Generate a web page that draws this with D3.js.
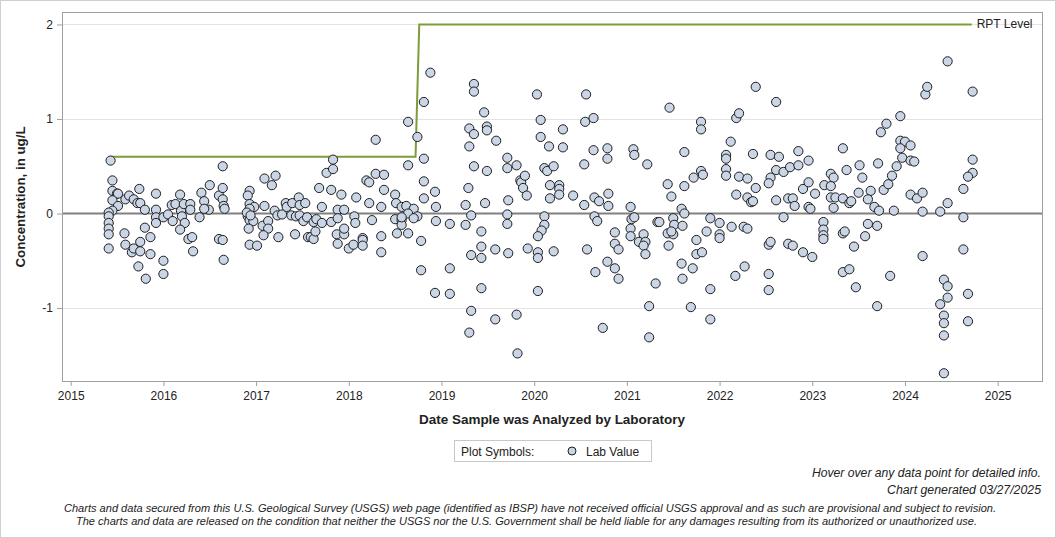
<!DOCTYPE html>
<html>
<head>
<meta charset="utf-8">
<script src="https://cdn.jsdelivr.net/npm/d3@7"></script>
<style>
  body { margin: 0; background: #fff; }
  svg text { font-family: "Liberation Sans", Arial, sans-serif; fill: #222; }
</style>
</head>
<body>
<svg id="chart" width="1056" height="538"></svg>
<script>
// sample dates (decimal years) and lab values
const sampleDates = [
  2015.43, 2015.45, 2015.45, 2015.50, 2015.51, 2015.45, 2015.51, 2015.45, 2015.41, 2015.41, 2015.41, 2015.41, 2015.41, 2015.41,
  2015.59, 2015.63, 2015.68, 2015.74, 2015.72, 2015.75, 2015.80, 2015.58, 2015.59, 2015.66, 2015.68, 2015.75, 2015.75, 2015.80,
  2015.86, 2015.86, 2015.73, 2015.81, 2015.92, 2015.92, 2015.92, 2015.92, 2016.00, 2016.05, 2016.10, 2016.00, 2016.00,
  2016.09, 2016.13, 2016.18, 2016.19, 2016.20, 2016.22, 2016.23, 2016.18, 2016.29, 2016.29, 2016.39, 2016.41, 2016.44,
  2016.50, 2016.49, 2016.44, 2016.27, 2016.31, 2016.32, 2016.64, 2016.60, 2016.64, 2016.64, 2016.65, 2016.66, 2016.60, 2016.64, 2016.65,
  2016.93, 2016.91, 2016.93, 2016.98, 2016.93, 2016.91, 2016.93, 2016.97, 2016.92, 2016.93, 2017.01, 2016.90, 2016.94,
  2017.09, 2017.09, 2017.17, 2017.21, 2017.07, 2017.13, 2017.13, 2017.08, 2017.24, 2017.20, 2017.23, 2017.28, 2017.32, 2017.33,
  2017.39, 2017.38, 2017.46, 2017.47, 2017.53, 2017.43, 2017.47, 2017.51, 2017.55, 2017.62, 2017.65, 2017.71, 2017.71, 2017.81,
  2017.88, 2017.88, 2017.95, 2017.42, 2017.56, 2017.59, 2017.62, 2017.64, 2017.68, 2017.81, 2017.92, 2017.76, 2017.83, 2017.83,
  2017.87, 2017.95, 2017.95, 2017.88, 2018.00, 2018.05, 2018.06, 2018.07, 2018.08, 2018.15, 2018.15, 2018.15, 2018.19, 2018.22,
  2018.29, 2018.38, 2018.29, 2018.22, 2018.25, 2018.35, 2018.35, 2018.35, 2018.38,
  2018.50, 2018.51, 2018.57, 2018.62, 2018.70, 2018.64, 2018.74, 2018.70, 2018.50, 2018.57, 2018.57, 2018.52, 2018.64, 2018.78,
  2018.78, 2018.64, 2018.81, 2018.81, 2018.81, 2018.93, 2018.94, 2018.94, 2018.88, 2018.81, 2018.64, 2018.74, 2018.57,
  2019.09, 2019.26, 2019.29, 2019.26, 2019.32, 2019.30, 2019.30, 2019.35, 2019.35, 2019.35, 2019.46, 2019.49, 2019.49, 2019.59,
  2019.35, 2019.49, 2019.47, 2019.43, 2019.09, 2018.93, 2019.09, 2019.32, 2019.43, 2019.43, 2019.58, 2019.43, 2019.32, 2019.58, 2019.30,
  2019.71, 2019.71, 2019.81, 2019.85, 2019.86, 2019.88, 2019.90, 2019.92, 2019.72, 2019.71, 2019.71, 2019.72, 2019.93, 2019.81, 2019.82,
  2020.03, 2020.07, 2020.07, 2020.16, 2020.31, 2020.31, 2020.11, 2020.14, 2020.21, 2020.17, 2020.27, 2020.27, 2020.27, 2020.17,
  2020.42, 2020.11, 2020.11, 2020.08, 2020.04, 2020.04, 2020.04, 2020.21, 2020.04,
  2020.56, 2020.55, 2020.64, 2020.64, 2020.79, 2020.79, 2020.54, 2020.65, 2020.70, 2020.80, 2020.80, 2020.54, 2020.65, 2020.68,
  2020.87, 2020.57, 2020.87, 2020.91, 2020.79, 2020.66, 2020.87, 2020.91, 2020.74,
  2021.07, 2021.08, 2021.22, 2021.04, 2021.05, 2021.08, 2021.04, 2021.04, 2021.18, 2021.13, 2021.20, 2021.18, 2021.20, 2021.31,
  2021.24, 2021.24, 2021.33, 2021.35,
  2021.46, 2021.44, 2021.48, 2021.62, 2021.62, 2021.59, 2021.62, 2021.50, 2021.51, 2021.60, 2021.44, 2021.50, 2021.48, 2021.45,
  2021.59, 2021.60, 2021.71, 2021.69, 2021.80, 2021.80, 2021.72, 2021.80, 2021.82, 2021.90, 2022.00, 2022.00, 2021.86, 2021.75,
  2021.75, 2021.81, 2021.90, 2021.90, 2022.00,
  2022.12, 2022.18, 2022.21, 2022.07, 2022.07, 2022.07, 2022.07, 2022.21, 2022.30, 2022.39, 2022.18, 2022.30, 2022.34, 2022.36,
  2022.36, 2022.39, 2022.13, 2022.26, 2022.30, 2022.27, 2022.17, 2022.53, 2022.55, 2022.53, 2022.53,
  2022.61, 2022.55, 2022.64, 2022.61, 2022.69, 2022.55, 2022.53, 2022.61, 2022.76, 2022.85, 2022.85, 2022.96, 2022.74, 2022.79,
  2022.81, 2022.69, 2022.90, 2022.96, 2023.03, 2022.96, 2022.98, 2022.74, 2022.79, 2022.90, 2023.00,
  2023.13, 2023.20, 2023.23, 2023.20, 2023.20, 2023.25, 2023.33, 2023.37, 2023.33, 2023.40, 2023.42, 2023.23, 2023.12, 2023.12,
  2023.12, 2023.12, 2023.33, 2023.35, 2023.45, 2023.33, 2023.40, 2023.47, 2023.51, 2023.54, 2023.50, 2023.63, 2023.60, 2023.67,
  2023.72, 2023.70, 2023.60, 2023.57, 2023.70, 2023.71, 2023.77, 2023.82, 2023.86, 2023.91, 2023.74, 2023.80, 2023.95, 2023.84,
  2023.95, 2024.00, 2024.06, 2023.95, 2023.97, 2024.06, 2024.10, 2023.88, 2024.06, 2024.13, 2024.19, 2024.19, 2024.19, 2024.22,
  2024.24, 2024.46, 2024.38, 2024.46, 2024.42, 2024.46, 2024.46, 2024.38, 2024.42, 2024.42, 2024.42, 2024.42,
  2024.73, 2024.73, 2024.73, 2024.68, 2024.63, 2024.63, 2024.63, 2024.68, 2024.68
];
const labValues = [
  0.56, 0.35, 0.24, 0.21, 0.21, 0.14, 0.08, 0.03, 0.01, -0.03, -0.10, -0.16, -0.22, -0.37,
  0.15, 0.19, 0.15, 0.26, 0.11, 0.11, 0.04, -0.21, -0.33, -0.41, -0.37, -0.30, -0.40, -0.15,
  -0.25, -0.43, -0.56, -0.69, 0.21, 0.04, -0.04, -0.10, -0.04, -0.01, -0.08, -0.50, -0.64,
  0.09, 0.10, 0.20, 0.03, -0.03, 0.10, -0.10, -0.17, 0.10, 0.04, -0.04, 0.22, 0.13,
  0.30, 0.04, 0.05, -0.27, -0.25, -0.40, 0.50, 0.19, 0.27, 0.15, 0.08, 0.05, -0.27, -0.28, -0.49,
  0.24, 0.19, 0.10, 0.07, 0.05, -0.03, -0.07, -0.08, -0.16, -0.33, -0.34, 0.01, -0.02,
  0.08, 0.37, 0.30, 0.40, -0.13, -0.08, -0.16, -0.23, -0.25, 0.03, -0.02, -0.01, 0.11, 0.07,
  0.11, -0.02, 0.17, 0.09, 0.11, -0.03, -0.02, -0.08, -0.04, -0.09, -0.06, 0.07, -0.10, -0.09,
  0.04, -0.05, 0.04, -0.22, -0.25, -0.25, -0.27, -0.19, 0.27, 0.25, 0.20, 0.43, 0.47, 0.57,
  -0.22, -0.22, -0.16, -0.32, -0.37, -0.33, -0.03, -0.10, 0.17, -0.26, -0.28, -0.34, 0.35, 0.33,
  0.42, 0.41, 0.78, 0.11, -0.07, 0.07, -0.24, -0.41, 0.25,
  0.20, 0.11, 0.07, 0.08, 0.05, 0.00, -0.03, -0.05, -0.06, -0.07, -0.12, -0.21, -0.21, -0.29,
  -0.60, 0.51, 0.58, 0.34, 0.16, 0.23, 0.07, -0.08, 1.49, 1.18, 0.97, 0.81, -0.04,
  -0.11, -0.12, 0.27, 0.09, -0.02, 0.71, 0.90, 0.84, 1.37, 1.29, 1.07, 0.92, 0.88, 0.77,
  0.50, 0.45, 0.11, -0.19, -0.58, -0.84, -0.85, -0.44, -0.35, -0.47, -0.38, -0.79, -1.03, -1.12, -1.26,
  0.59, 0.48, 0.51, 0.35, 0.33, 0.27, 0.40, 0.19, 0.14, -0.01, -0.11, -0.42, -0.37, -1.07, -1.48,
  1.26, 0.99, 0.81, 0.71, 0.89, 0.70, 0.48, 0.45, 0.50, 0.30, 0.30, 0.26, 0.20, 0.16,
  0.19, -0.03, -0.12, -0.18, -0.24, -0.41, -0.47, -0.40, -0.82,
  1.26, 0.97, 1.01, 0.67, 0.69, 0.58, 0.52, 0.17, 0.13, 0.21, 0.08, 0.09, -0.03, -0.08,
  -0.20, -0.38, -0.32, -0.38, -0.51, -0.62, -0.58, -0.69, -1.21,
  0.68, 0.62, 0.52, 0.07, -0.06, -0.04, -0.16, -0.24, -0.22, -0.30, -0.30, -0.34, -0.43, -0.74,
  -0.98, -1.31, -0.09, -0.09,
  1.12, 0.31, 0.18, 0.29, 0.65, 0.05, 0.00, -0.05, -0.12, -0.13, -0.21, -0.22, -0.19, -0.34,
  -0.53, -0.69, -0.58, -0.99, 0.97, 0.89, 0.38, 0.45, 0.41, -0.05, -0.10, -0.22, -0.19, -0.28,
  -0.43, -0.41, -0.80, -1.12, -0.26,
  0.76, 1.01, 1.06, 0.62, 0.58, 0.47, 0.40, 0.39, 0.37, 0.27, 0.20, 0.17, 0.12, 0.13,
  0.63, 1.34, -0.14, -0.14, -0.16, -0.56, -0.66, -0.33, -0.30, -0.64, -0.81,
  1.18, 0.62, 0.60, 0.46, 0.44, 0.38, 0.32, 0.14, 0.49, 0.51, 0.66, 0.56, 0.16, 0.16,
  0.08, -0.04, 0.26, 0.33, 0.21, 0.07, 0.05, -0.32, -0.34, -0.41, -0.46,
  0.30, 0.42, 0.38, 0.29, 0.17, 0.17, 0.69, 0.46, 0.16, 0.11, 0.13, 0.06, -0.09, -0.17,
  -0.23, -0.27, -0.21, -0.19, -0.35, -0.62, -0.59, -0.78, 0.51, 0.38, 0.22, 0.24, 0.15, 0.07,
  0.03, -0.13, -0.11, -0.24, -0.98, 0.53, 0.25, 0.31, 0.40, 0.50, 0.86, 0.95, 1.03, -0.66,
  0.77, 0.76, 0.72, 0.69, 0.59, 0.56, 0.55, 0.03, 0.20, 0.16, 0.22, 0.02, -0.45, 1.26,
  1.34, 1.61, 0.02, 0.11, -0.70, -0.77, -0.89, -0.96, -1.08, -1.16, -1.29, -1.69,
  1.29, 0.57, 0.43, 0.39, 0.26, -0.04, -0.38, -0.85, -1.14
];

// reporting level step line
const rptDates = [2015.44, 2018.72, 2018.76, 2024.72];
const rptValues = [0.6, 0.6, 2.0, 2.0];

const yearTicks = [2015, 2016, 2017, 2018, 2019, 2020, 2021, 2022, 2023, 2024, 2025];
const valueTicks = [-1, 0, 1, 2];

const plotLeft = 62, plotRight = 1043, plotTop = 12, plotBottom = 381;

const svg = d3.select("#chart");

// outer border
svg.append("rect")
  .attr("x", 0.5).attr("y", 0.5).attr("width", 1055).attr("height", 537)
  .attr("fill", "#fff").attr("stroke", "#d0d0d0");

const x = d3.scaleLinear().domain([2014.906, 2025.489]).range([plotLeft, plotRight]);
const y = d3.scaleLinear().domain([-1.772, 2.132]).range([plotBottom, plotTop]);

// grid lines
svg.append("g").selectAll("line")
  .data(valueTicks.filter(d => d !== 0))
  .enter().append("line")
  .attr("x1", plotLeft).attr("x2", plotRight)
  .attr("y1", d => Math.round(y(d)) + 0.5).attr("y2", d => Math.round(y(d)) + 0.5)
  .attr("stroke", "#e4e4e4");

// zero reference line
svg.append("line")
  .attr("x1", plotLeft).attr("x2", plotRight)
  .attr("y1", y(0)).attr("y2", y(0))
  .attr("stroke", "#808080").attr("stroke-width", 2);

// axes
const yAxis = svg.append("g")
  .attr("transform", `translate(${plotLeft},0)`)
  .call(d3.axisLeft(y).tickValues(valueTicks).tickFormat(d => String(d)).tickSize(5).tickPadding(4));
const xAxis = svg.append("g")
  .attr("transform", `translate(0,${plotBottom})`)
  .call(d3.axisBottom(x).tickValues(yearTicks).tickFormat(d => String(d)).tickSize(5).tickPadding(5));

[yAxis, xAxis].forEach(g => {
  g.select(".domain").remove();
  g.selectAll(".tick line").attr("stroke", "#a0a0a0");
  g.selectAll(".tick text").attr("font-size", 12).attr("fill", "#222")
    .attr("font-family", '"Liberation Sans", Arial, sans-serif');
});

// frame
svg.append("rect")
  .attr("x", plotLeft + 0.5).attr("y", plotTop + 0.5)
  .attr("width", plotRight - plotLeft - 1).attr("height", plotBottom - plotTop)
  .attr("fill", "none").attr("stroke", "#a0a0a0");

// RPT level line
const rpt = rptDates.map((d, i) => [d, rptValues[i]]);
svg.append("path")
  .datum(rpt)
  .attr("d", d3.line().x(d => x(d[0])).y(d => y(d[1])))
  .attr("fill", "none")
  .attr("stroke", "#7d9d3b")
  .attr("stroke-width", 2);

svg.append("text")
  .attr("x", x(rptDates[rptDates.length - 1]) + 5)
  .attr("y", y(2) + 4)
  .attr("font-size", 12)
  .text("RPT Level");

// sample points
const points = sampleDates.map((d, i) => ({ date: d, value: labValues[i] }));
svg.append("g").selectAll("circle")
  .data(points)
  .enter().append("circle")
  .attr("cx", d => x(d.date))
  .attr("cy", d => y(d.value))
  .attr("r", 4.6)
  .attr("fill", "#cad5e6")
  .attr("stroke", "#1e1e1e")
  .attr("stroke-width", 1);

// axis titles
svg.append("text")
  .attr("x", 552).attr("y", 424)
  .attr("text-anchor", "middle")
  .attr("font-size", 13).attr("font-weight", "bold")
  .attr("textLength", 266).attr("lengthAdjust", "spacingAndGlyphs")
  .text("Date Sample was Analyzed by Laboratory");

svg.append("text")
  .attr("transform", "translate(25,197) rotate(-90)")
  .attr("text-anchor", "middle")
  .attr("font-size", 13).attr("font-weight", "bold")
  .attr("textLength", 141).attr("lengthAdjust", "spacingAndGlyphs")
  .text("Concentration, in ug/L");

// legend
const legend = svg.append("g");
legend.append("rect")
  .attr("x", 454.5).attr("y", 440.5).attr("width", 197).attr("height", 21)
  .attr("fill", "#fff").attr("stroke", "#c8c8c8");
legend.append("text")
  .attr("x", 461).attr("y", 455.5).attr("font-size", 12)
  .text("Plot Symbols:");
legend.append("circle")
  .attr("cx", 572).attr("cy", 451).attr("r", 4)
  .attr("fill", "#cad5e6").attr("stroke", "#1e1e1e");
legend.append("text")
  .attr("x", 586).attr("y", 455.5).attr("font-size", 12)
  .text("Lab Value");

// notes
svg.append("text")
  .attr("x", 1041).attr("y", 477).attr("text-anchor", "end")
  .attr("font-size", 12).attr("font-style", "italic")
  .attr("textLength", 229).attr("lengthAdjust", "spacingAndGlyphs")
  .text("Hover over any data point for detailed info.");
svg.append("text")
  .attr("x", 1041).attr("y", 494).attr("text-anchor", "end")
  .attr("font-size", 12).attr("font-style", "italic")
  .attr("textLength", 154).attr("lengthAdjust", "spacingAndGlyphs")
  .text("Chart generated 03/27/2025");
svg.append("text")
  .attr("x", 530).attr("y", 512).attr("text-anchor", "middle")
  .attr("font-size", 11).attr("font-style", "italic")
  .attr("textLength", 932).attr("lengthAdjust", "spacingAndGlyphs")
  .text("Charts and data secured from this U.S. Geological Survey (USGS) web page (identified as IBSP) have not received official USGS approval and as such are provisional and subject to revision.");
svg.append("text")
  .attr("x", 526.5).attr("y", 525).attr("text-anchor", "middle")
  .attr("font-size", 11).attr("font-style", "italic")
  .attr("textLength", 901).attr("lengthAdjust", "spacingAndGlyphs")
  .text("The charts and data are released on the condition that neither the USGS nor the U.S. Government shall be held liable for any damages resulting from its authorized or unauthorized use.");
</script>
</body>
</html>
